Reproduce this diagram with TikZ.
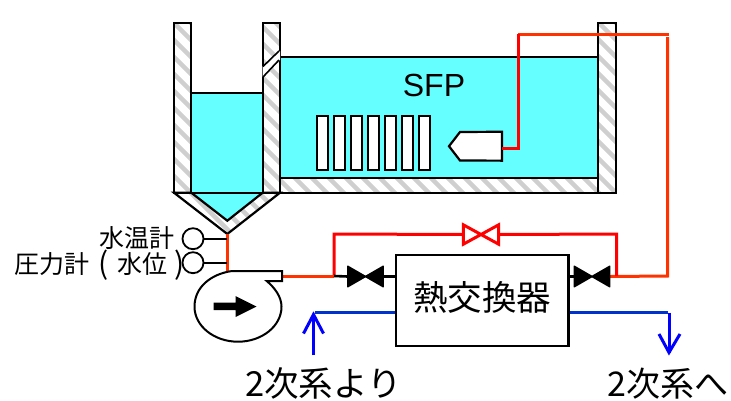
\documentclass[tikz,border=0pt]{standalone}
\usepackage{fontspec}
\setmainfont{Liberation Sans}
\newfontfamily\cjk{Noto Sans CJK JP}
\definecolor{water}{HTML}{66FFFF}
\definecolor{hatchc}{HTML}{CFCFCF}
\definecolor{mainred}{HTML}{FF3300}
\definecolor{purered}{HTML}{FF0000}
\definecolor{blueh}{HTML}{0033CC}
\definecolor{bluev}{HTML}{0000FF}
\tikzset{
  bk/.style={draw=black,line width=2.2pt},
  thinbk/.style={draw=black,line width=1.6pt},
  redmain/.style={draw=mainred,line width=3pt},
  redpure/.style={draw=purered,line width=3pt},
  blueline/.style={draw=blueh,line width=3pt},
  bluearrow/.style={draw=bluev,line width=3pt},
  valvebox/.style={inner sep=0pt,minimum width=35pt,minimum height=20pt},
  redvalvebox/.style={inner sep=0pt,minimum width=35pt,minimum height=19pt},
  gauge/.style={circle,draw=black,line width=1.8pt,inner sep=0pt,minimum size=21pt},
  txt/.style={inner sep=0pt,font=\cjk\fontsize{25}{25}\selectfont,text=black},
  rod/.style={draw=black,line width=2pt,fill=white},
}
\newcommand{\hatchfill}[1]{%
  \fill[white] #1;
  \begin{scope}
    \clip #1;
    \foreach \k in {-240,-223,...,620}
      \draw[hatchc,line width=4.5pt] (\k,0) -- (\k+400,400);
  \end{scope}
  \draw[bk] #1;
}
\begin{document}
\begin{tikzpicture}[x=1pt,y=-1pt]
\useasboundingbox (0,0) rectangle (731,400);
\fill[white] (0,0) rectangle (731,400);
% water
\fill[water] (191.3,93.3) rectangle (262.7,192.7);
\fill[water] (191.3,192.7) -- (262.7,192.7) -- (227.3,220.7) -- cycle;
\fill[water] (280,57.3) rectangle (598.3,178.3);
% walls
\hatchfill{(174,23.3) rectangle (191.3,192.7)}
\hatchfill{(262.7,23.3) rectangle (280,192.7)}
\hatchfill{(598.3,23.3) rectangle (616,192.7)}
\hatchfill{(280,178.3) rectangle (598.3,192.7)}
\hatchfill{(174,192.7) -- (191.3,192.7) -- (227.3,220.7) -- (262.7,192.7) -- (280,192.7) -- (227.3,234) -- cycle}
% water outlines
\draw[bk] (191.3,93.3) -- (262.7,93.3);
\draw[bk] (191.3,192.7) -- (262.7,192.7);
\draw[bk] (280,57.3) -- (598.3,57.3);
% gate slot
\fill[white] (262.7,66.5) -- (280,51) -- (280,60) -- (262.7,77) -- cycle;
\draw[thinbk] (263,66.5) -- (279,51);
\draw[thinbk] (263,77) -- (279,60);
% fuel racks
\foreach \i in {0,...,6}
  \draw[rod] ({317+17.05*\i},116) rectangle ++(10.6,54);
\node[inner sep=0pt,anchor=base,font=\fontsize{32}{32}\selectfont,text=black] (sfp) at (434,96) {SFP};
% strainer
\node[inner sep=0pt,minimum width=52.7pt,minimum height=28.5pt] (strainer) at (475.35,146.2) {};
\draw[bk,fill=white] (strainer.north east) -- (strainer.south east) -- (460,160.5) -- (449,146.2) -- (460,132) -- cycle;
% pipes
\coordinate (sv) at (518,148);
\coordinate (st) at (518,34);
\coordinate (se) at (669,34);
\coordinate (rt) at (667.5,37);
\coordinate (rb) at (667.5,276);
\coordinate (bypR) at (616.7,276);
\coordinate (bypL) at (334,276);
\coordinate (bypLt) at (334,234);
\coordinate (bypRt) at (616.7,234);
\coordinate (vesselb) at (227.5,234);
\coordinate (pumpin) at (227.5,271);
\coordinate (pumpout) at (282,276);
\node[valvebox] (v1) at (365.5,276.5) {};
\node[valvebox] (v2) at (592,276.5) {};
\node[redvalvebox] (v3) at (481,234.5) {};
\node[draw=black,line width=2.2pt,fill=white,inner sep=0pt,minimum width=172.5pt,minimum height=91pt] (hx) at (482.25,300.5) {};
\node[txt,font=\cjk\fontsize{34.5}{34.5}\selectfont] (hxt) at (482.25,297) {熱交換器};
\draw[redmain] (st) -- (se);
\draw[redpure] (strainer.east |- sv) -- (sv) -- (st);
\draw[redmain] (rt) -- (rb) -- (v2.east);
\draw[redpure] (bypR) -- (bypRt) -- (v3.east);
\draw[redpure] (v3.west) -- (bypLt) -- (bypL);
\draw[redmain] (vesselb) -- (pumpin);
\draw[redmain] (pumpout) -- (bypL);
\draw[bk,line width=2.6pt] (bypL) -- (v1.west);
\draw[bk,line width=2.6pt] (v1.east) -- (hx.west |- v1.east);
\draw[bk,line width=2.6pt] (hx.east |- v2.west) -- (v2.west);
% valves
\foreach \v in {v1,v2}
  \fill[black,draw=black,line width=1.5pt,line join=round] (\v.north west) -- (\v.south east) -- (\v.north east) -- (\v.south west) -- cycle;
\draw[redpure,line join=miter,fill=white] (v3.north west) -- (v3.south east) -- (v3.north east) -- (v3.south west) -- cycle;
% secondary
\coordinate (bli) at (315,312.5);
\coordinate (bro) at (668,312.5);
\coordinate (upTip) at (313.5,314.5);
\coordinate (upEnd) at (313.5,355);
\coordinate (dnTop) at (669,312.5);
\coordinate (dnTip) at (669,352.5);
\draw[blueline] (bli) -- (hx.west |- bli);
\draw[blueline] (hx.east |- bro) -- (bro);
\draw[bluearrow] (upEnd) -- (upTip);
\draw[bluearrow] (303.5,333.5) -- (upTip) -- (323.5,333.5);
\draw[bluearrow] (dnTop) -- (dnTip);
\draw[bluearrow] (659,334) -- (dnTip) -- (680,334);
% pump
\draw[draw=black,line width=2pt,fill=white] (282,271) -- (282,281) -- (266.7,281) .. controls (275,288) and (281.5,297) .. (281.5,306.7) .. controls (281.5,326) and (262,341.7) .. (238,341.7) .. controls (214,341.7) and (194.5,326) .. (194.5,306.7) .. controls (194.5,287) and (211,274) .. (232,271) -- cycle;
\fill[black] (213.5,302.5) -- (235.5,302.5) -- (235.5,296) -- (256.5,306.5) -- (235.5,317) -- (235.5,310) -- (213.5,310) -- cycle;
% gauges
\node[gauge] (g1) at (193,238.7) {};
\node[gauge] (g2) at (193,262.7) {};
\draw[thinbk] (g1) -- (227,238.7);
\draw[thinbk] (g2) -- (227,262.7);
% labels
\node[txt,anchor=base east] (l1) at (174.5,247) {水温計};
\node[txt,anchor=base west] (l2) at (14,273) {圧力計};
\node[txt,anchor=base,font=\cjk\fontsize{30}{30}\selectfont] (l2a) at (104,274) {(};
\node[txt,anchor=base west] (l2b) at (117,273) {水位};
\node[txt,anchor=base,font=\cjk\fontsize{30}{30}\selectfont] (l2c) at (180,274) {)};
\node[txt,anchor=base west,font=\cjk\fontsize{34.5}{34.5}\selectfont] (t1) at (245,396) {2次系より};
\node[txt,anchor=base west,font=\cjk\fontsize{34}{34}\selectfont] (t2) at (607,396) {2次系へ};
\end{tikzpicture}
\end{document}
